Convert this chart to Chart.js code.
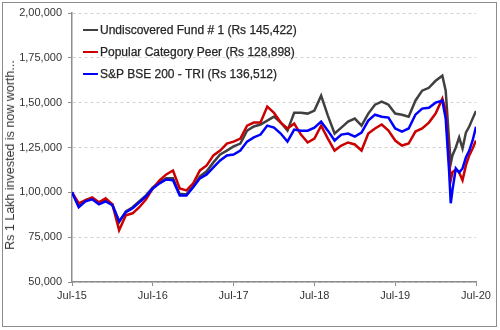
<!DOCTYPE html>
<html>
<head>
<meta charset="utf-8">
<script src="https://cdn.jsdelivr.net/npm/chart.js@4.4.1/dist/chart.umd.min.js"></script>
<style>
  html, body { margin: 0; padding: 0; background: #fff; }
  #wrap { position: relative; width: 500px; height: 330px; }
  #frame { position: absolute; left: 2px; top: 2px; width: 493px; height: 323px; border: 1px solid #8c8c8c; pointer-events: none; }
  #legend { position: absolute; left: 83px; top: 22px; font: 12px "Liberation Sans", Arial, sans-serif; color: #262626; -webkit-text-stroke: 0.25px #262626; }
  #legend div { height: 22px; line-height: 16px; white-space: nowrap; }
  #legend span.sw { display: inline-block; width: 15px; height: 2px; vertical-align: middle; margin-right: 2px; position: relative; top: -1px; }
  #ytitle { position: absolute; left: 10px; top: 155px; width: 0; height: 0; }
  #ytitle span { position: absolute; transform: translate(-50%, -50%) rotate(-90deg); white-space: nowrap;
    font: 12.5px "Liberation Sans", Arial, sans-serif; color: #333; }
</style>
</head>
<body>
<div id="wrap">
  <canvas id="chart" width="500" height="330"></canvas>
  <div id="ytitle"><span>Rs 1 Lakh invested is now worth...</span></div>
  <div id="legend"></div>
  <div id="frame"></div>
</div>
<script>
// months since Jul-15 (extra points around the Mar-20 fall)
const months = [0,1,2,3,4,5,6,7,8,9,10,11,12,13,14,15,16,17,18,19,20,21,22,23,24,25,26,27,28,29,
  30,31,32,33,34,35,36,37,38,39,40,41,42,43,44,45,46,47,48,49,50,51,52,53,54,55,
  55.5,56,56.25,56.5,57,57.5,58,58.5,59,59.5,60];
const xTickLabels = ["Jul-15", "Jul-16", "Jul-17", "Jul-18", "Jul-19", "Jul-20"];

const fundValues = [100000,92200,95600,96700,93900,95600,93300,83300,89400,91700,95000,98300,
  102800,105600,107800,107800,98900,98900,103300,108900,111700,116700,121100,123300,
  125600,127200,134400,136700,137800,140000,142200,138900,134400,144400,144400,143900,
  145600,153900,142800,132800,136100,139400,141100,137200,143900,148900,150600,148900,
  143900,143300,142200,151100,156700,158300,162200,165000,
  156700,128900,116100,120600,125000,130600,124400,133300,136700,141100,145422];
const peerValues = [100000,93900,95600,97200,94400,96700,93300,78900,87200,88300,91700,96100,
  102200,106700,110000,112200,102200,101100,105000,112200,115000,120600,123300,127200,
  128300,130000,137200,138900,138900,147800,144400,138900,135600,138300,132200,127800,
  130000,137200,130000,123300,126100,127800,126700,123300,132800,135600,137800,134400,
  128900,126100,127200,133900,135600,138900,143900,152200,
  145600,117800,106700,111100,112800,111100,106700,115000,120600,124400,128898];
const indexValues = [100000,91700,95000,96100,93300,95000,92800,83900,88900,91100,94400,97800,
  102200,105000,107200,106700,98300,98300,102800,107800,110000,113900,117800,120600,
  121100,123300,128300,130600,132200,137200,136100,132800,128300,135000,134400,134400,
  136100,139400,134400,128900,132200,132800,131100,133300,140000,143300,142200,141700,
  135600,133900,135600,143300,146700,147200,150000,151100,
  141100,112200,93900,101100,113300,111100,113300,119400,123300,128900,136512];

const seriesNames = [
  "Undiscovered Fund # 1 (Rs 145,422)",
  "Popular Category Peer (Rs 128,898)",
  "S&P BSE 200 - TRI (Rs 136,512)"
];
const seriesColors = ["#404040", "#cc0000", "#0000ff"];

function indianFormat(n) {
  const s = String(Math.round(n));
  if (s.length <= 3) return s;
  const last3 = s.slice(-3);
  const rest = s.slice(0, -3).replace(/\B(?=(\d{2})+(?!\d))/g, ",");
  return rest + "," + last3;
}

function toPoints(vals) {
  return vals.map((v, i) => ({ x: months[i], y: v }));
}

const valueSets = [fundValues, peerValues, indexValues];
// index drawn on top, fund underneath
const drawOrder = [3, 2, 1];

const datasets = valueSets.map((vals, i) => ({
  label: seriesNames[i],
  data: toPoints(vals),
  borderColor: seriesColors[i],
  backgroundColor: seriesColors[i],
  borderWidth: 2.5,
  pointRadius: 0,
  tension: 0,
  order: drawOrder[i]
}));

const font = { family: "'Liberation Sans', Arial, sans-serif", size: 11 };

new Chart(document.getElementById("chart"), {
  type: "line",
  data: { datasets },
  options: {
    responsive: false,
    animation: false,
    layout: { padding: { top: 13, right: 24, left: 0, bottom: 0 } },
    plugins: { legend: { display: false }, tooltip: { enabled: false } },
    scales: {
      x: {
        type: "linear",
        min: 0,
        max: 60,
        afterFit: (s) => { s.height = 48; },
        afterBuildTicks: (s) => { s.ticks = xTickLabels.map((_, i) => ({ value: i * 12 })); },
        ticks: {
          color: "#333",
          font,
          padding: 3,
          maxRotation: 0,
          callback: (v) => xTickLabels[Math.round(v / 12)]
        },
        grid: { drawOnChartArea: false, drawTicks: true, tickLength: 4, tickColor: "#8c8c8c" },
        border: { color: "#8c8c8c", width: 1.5 }
      },
      y: {
        min: 50000,
        max: 200000,
        afterFit: (s) => { s.width = 72; },
        ticks: {
          stepSize: 25000,
          color: "#333",
          font,
          padding: 6,
          callback: (v) => indianFormat(v)
        },
        grid: { color: "#d0d0d0", lineWidth: 1, tickLength: 4, tickColor: "#8c8c8c" },
        border: { color: "#8c8c8c", width: 1.5, dash: [3, 3] }
      }
    }
  }
});

// legend sits inside the plot area, top left
const legendEl = document.getElementById("legend");
seriesNames.forEach((name, i) => {
  const row = document.createElement("div");
  const sw = document.createElement("span");
  sw.className = "sw";
  sw.style.background = seriesColors[i];
  row.appendChild(sw);
  row.appendChild(document.createTextNode(name));
  legendEl.appendChild(row);
});
</script>
</body>
</html>
